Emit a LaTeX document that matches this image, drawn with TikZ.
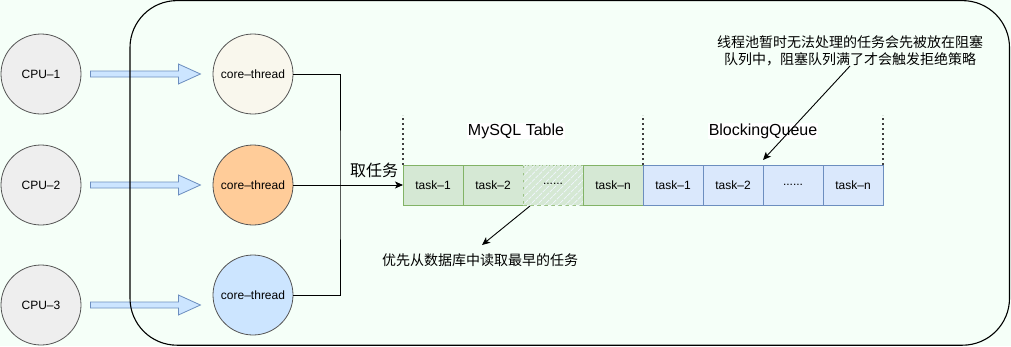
\documentclass[tikz,border=0pt]{standalone}
\usepackage{fontspec}
\setmainfont{Liberation Sans}
\newfontfamily\cjk{Noto Sans CJK SC}
\usetikzlibrary{arrows.meta,patterns.meta,calc}
\definecolor{bgmint}{HTML}{F5FFF8}
\definecolor{cpufill}{HTML}{EEEEEE}
\definecolor{circstroke}{HTML}{555555}
\definecolor{tonefill}{HTML}{F9F7ED}
\definecolor{ttwofill}{HTML}{FFCC99}
\definecolor{tthreefill}{HTML}{CCE5FF}
\definecolor{arrfill}{HTML}{CCE5FF}
\definecolor{arrstroke}{HTML}{6C8EBF}
\definecolor{gfill}{HTML}{D5E8D4}
\definecolor{gstroke}{HTML}{82B366}
\definecolor{bfill}{HTML}{DAE8FC}
\definecolor{bstroke}{HTML}{6C8EBF}
\tikzset{
  circnode/.style={circle, draw=circstroke, minimum size=80pt, inner sep=0pt, line width=0.8pt, font=\fontsize{12}{14}\selectfont},
  blockarr/.style={draw=arrstroke, fill=arrfill, line width=0.8pt, line join=miter},
  gtask/.style={draw=gstroke, fill=gfill, minimum width=60pt, minimum height=40pt, inner sep=0pt, outer sep=0pt, line width=0.8pt, font=\fontsize{12}{14}\selectfont},
  btask/.style={draw=bstroke, fill=bfill, minimum width=60pt, minimum height=40pt, inner sep=0pt, outer sep=0pt, line width=0.8pt, font=\fontsize{12}{14}\selectfont},
  hatchtask/.style={gtask, dashed, dash pattern=on 4pt off 3pt, draw=gstroke!80,
    postaction={pattern={Lines[angle=45,distance=5pt,line width=0.7pt]}, pattern color=white!60!bfill}},
  dotline/.style={line width=1.6pt, dash pattern=on 1.6pt off 3.4pt, color=black!75},
  conn/.style={line width=0.9pt, draw=black},
  tip/.style={-{Stealth[length=8pt,width=7pt,inset=2pt]}},
  headlabel/.style={fill=white, inner sep=1pt, font=\fontsize{16}{19}\selectfont},
  cnnote/.style={font=\cjk\fontsize{14}{17.3}\selectfont, align=center, inner sep=0pt}
}
\begin{document}
\begin{tikzpicture}[x=1pt, y=-1pt]
\useasboundingbox (0,0) rectangle (1011,346);
\fill[bgmint] (0,0) rectangle (1011,346);

% CPU nodes
\node[circnode, fill=cpufill] (c1) at (41,74) {CPU–1};
\node[circnode, fill=cpufill] (c2) at (41,185) {CPU–2};
\node[circnode, fill=cpufill] (c3) at (41,305) {CPU–3};

% core threads
\node[circnode, fill=tonefill] (t1) at (253,74) {core–thread};
\node[circnode, fill=ttwofill] (t2) at (253,185) {core–thread};
\node[circnode, fill=tthreefill] (t3) at (253,295) {core–thread};

% block arrows
\foreach \c in {c1,c2,c3}{
  \draw[blockarr] ($(\c.east)+(9,-3)$) -- ++(88,0) -- ++(0,-7) -- ++(22,10) -- ++(-22,10) -- ++(0,-7) -- ++(-88,0) -- cycle;
}

% outer pool frame
\draw[line width=1.1pt, rounded corners=47pt] (130,0.6) rectangle (1009.5,345.2);

% task boxes
\node[gtask] (m1) at (433,185) {task–1};
\node[gtask] (m2) at (493,185) {task–2};
\node[hatchtask] (m3) at (553,185) {};
\node[font=\fontsize{12}{14}\selectfont] at (553,184) {......};
\node[gtask] (m4) at (613,185) {task–n};
\node[btask] (b1) at (673,185) {task–1};
\node[btask] (b2) at (733,185) {task–2};
\node[btask] (b3) at (793,185) {......};
\node[btask] (b4) at (853,185) {task–n};

% dotted separators
\draw[dotline] (m1.north west) -- ++(0,-50);
\draw[dotline] (m4.north east) -- ++(0,-50);
\draw[dotline] (b4.north east) -- ++(0,-50);

% headings
\node[headlabel] (mysql) at (516,131) {MySQL Table};
\node[headlabel] (bq) at (763,131) {BlockingQueue};

% connectors from threads
\coordinate (j) at (340,185);
\draw[conn] (t1.east) -| (j) |- (t3.east);
\draw[conn, tip] (t2.east) -- (m1.west);
\node[font=\cjk\fontsize{16}{19}\selectfont, inner sep=0pt] (take) at (374,170) {取任务};

% annotations
\node[cnnote] (note1) at (850,51) {线程池暂时无法处理的任务会先被放在阻塞\\队列中，阻塞队列满了才会触发拒绝策略};
\coordinate (n1s) at (850,66);
\coordinate (n1e) at ($(b2.north east)+(0,-5)$);
\draw[conn, tip] (n1s) -- (n1e);

\node[cnnote] (note2) at (480,260) {优先从数据库中读取最早的任务};
\coordinate (n2s) at ($(m3.south west)+(7,1)$);
\coordinate (n2e) at (482,245);
\draw[conn, tip] (n2s) -- (n2e);
\end{tikzpicture}
\end{document}
